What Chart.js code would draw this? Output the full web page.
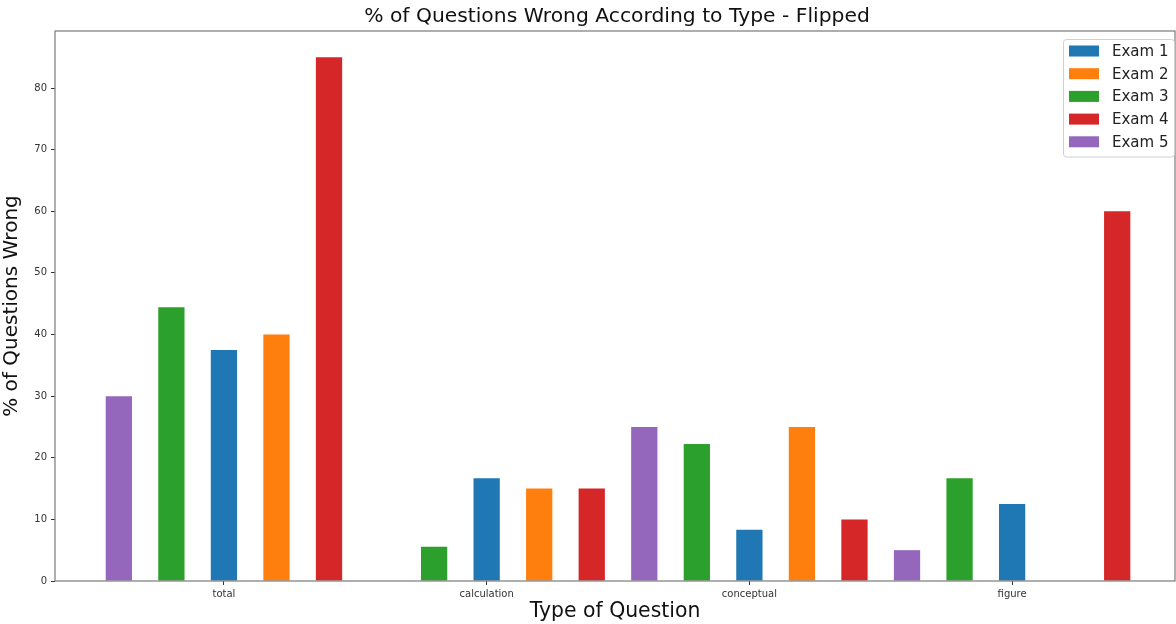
<!DOCTYPE html>
<html>
<head>
<meta charset="utf-8">
<script src="https://cdn.jsdelivr.net/npm/chart.js@4.4.1/dist/chart.umd.min.js"></script>
<style>
  html, body { margin: 0; padding: 0; background: #fff; }
  #wrap { width: 1176px; height: 624px; }
</style>
</head>
<body>
<div id="wrap"><canvas id="c" width="1176" height="624"></canvas></div>
<script>
// ---- data ----
const chartTitle = '% of Questions Wrong According to Type - Flipped';
const categories = ['total', 'calculation', 'conceptual', 'figure'];
const exam1 = [37.5, 16.67, 8.33, 12.5];
const exam2 = [40, 15, 25, 0];
const exam3 = [44.44, 5.56, 22.22, 16.67];
const exam4 = [85, 15, 10, 60];
const exam5 = [30, 0, 25, 5];
const yTicks = [0, 10, 20, 30, 40, 50, 60, 70, 80];

const colors = {
  'Exam 1': '#1f77b4', 'Exam 2': '#ff7f0e', 'Exam 3': '#2ca02c',
  'Exam 4': '#d62728', 'Exam 5': '#9467bd'
};
// order of bars inside each group (left -> right) as in the figure
const series = [
  ['Exam 5', exam5], ['Exam 3', exam3], ['Exam 1', exam1], ['Exam 2', exam2], ['Exam 4', exam4]
];

const datasets = series.map(([name, vals]) => ({
  label: name,
  data: vals.map((v, i) => ({ x: i, y: v })),
  backgroundColor: colors[name],
  borderWidth: 0,
  categoryPercentage: 1.0,
  barPercentage: 0.5
}));

const FONT = "'DejaVu Sans', sans-serif";

const framePlugin = {
  id: 'frame',
  afterDraw(chart) {
    const { ctx, chartArea: a } = chart;
    ctx.save();
    ctx.strokeStyle = '#7a7a7a';
    ctx.lineWidth = 1.2;
    ctx.strokeRect(a.left, a.top, a.right - a.left, a.bottom - a.top);
    // title, centred over the plot area
    ctx.font = '20.3px ' + FONT;
    ctx.fillStyle = '#111';
    ctx.textAlign = 'center';
    ctx.textBaseline = 'middle';
    ctx.fillText(chartTitle, (a.left + a.right) / 2 + 2, 17);
    // legend
    const items = chart.data.datasets.map(d => ({ text: d.label, color: d.backgroundColor }))
      .sort((p, q) => p.text.localeCompare(q.text));
    const bx = 1063.5, by = 39.5, bw = 111, bh = 117.5;
    ctx.beginPath();
    if (ctx.roundRect) ctx.roundRect(bx, by, bw, bh, 3); else ctx.rect(bx, by, bw, bh);
    ctx.fillStyle = 'rgba(255,255,255,0.8)';
    ctx.fill();
    ctx.strokeStyle = '#d0d0d0';
    ctx.lineWidth = 1;
    ctx.stroke();
    ctx.font = '15px ' + FONT;
    ctx.textBaseline = 'middle';
    ctx.textAlign = 'left';
    items.forEach((it, i) => {
      const cy = 51 + i * 22.7;
      ctx.fillStyle = it.color;
      ctx.fillRect(1069, cy - 5.5, 30, 11);
      ctx.fillStyle = '#222';
      ctx.fillText(it.text, 1112, cy + 1);
    });
    ctx.restore();
  }
};

new Chart(document.getElementById('c'), {
  type: 'bar',
  data: { datasets },
  plugins: [framePlugin],
  options: {
    responsive: false,
    animation: false,
    layout: { padding: { left: 0, right: 1, top: 31, bottom: 0 } },
    plugins: {
      legend: { display: false },
      tooltip: { enabled: false },
      title: { display: false }
    },
    scales: {
      x: {
        type: 'linear',
        min: -0.643,
        max: 3.62,
        offset: false,
        afterBuildTicks: (axis) => { axis.ticks = categories.map((c, i) => ({ value: i })); },
        afterFit: (axis) => { axis.height = 43; },
        ticks: {
          callback: (v) => categories[v] !== undefined ? categories[v] : '',
          color: '#333',
          font: { family: FONT, size: 10 },
          padding: 3,
          maxRotation: 0,
          autoSkip: false
        },
        grid: { display: true, offset: false, drawOnChartArea: false, drawTicks: true, tickLength: 4, color: '#333' },
        border: { display: false },
        title: {
          display: true,
          text: 'Type of Question',
          color: '#111',
          font: { family: FONT, size: 20.4 },
          padding: { top: 0, bottom: 0 }
        }
      },
      y: {
        min: 0,
        max: 89.25,
        afterBuildTicks: (axis) => { axis.ticks = yTicks.map(v => ({ value: v })); },
        afterFit: (axis) => { axis.width = 55; },
        ticks: {
          color: '#333',
          font: { family: FONT, size: 10 },
          padding: 4
        },
        grid: { display: true, drawOnChartArea: false, drawTicks: true, tickLength: 4, color: '#333' },
        border: { display: false },
        title: {
          display: true,
          text: '% of Questions Wrong',
          color: '#111',
          font: { family: FONT, size: 20 },
          padding: { top: 0, bottom: 6 }
        }
      }
    }
  }
});
</script>
</body>
</html>
